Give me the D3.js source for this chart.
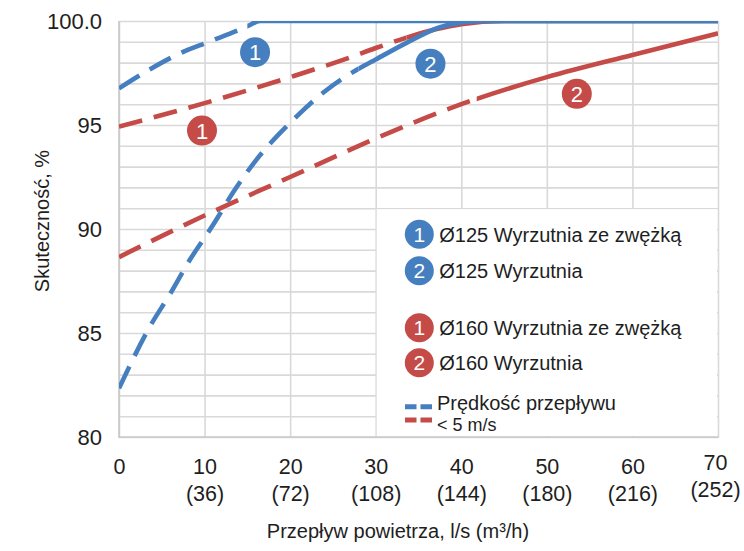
<!DOCTYPE html>
<html>
<head>
<meta charset="utf-8">
<script src="https://cdn.jsdelivr.net/npm/d3@7"></script>
<style>
  html, body { margin: 0; padding: 0; background: #fff; }
  svg { display: block; font-family: "Liberation Sans", Arial, sans-serif; }
</style>
</head>
<body>
<svg id="chart" width="744" height="551"></svg>
<script>
// ---------- DATA ----------
const xTickValues = [0, 10, 20, 30, 40, 50, 60, 70];
const xTickLabels = ["0", "10", "20", "30", "40", "50", "60", "70"];
const xTickSubLabels = ["", "(36)", "(72)", "(108)", "(144)", "(180)", "(216)", "(252)"];
const yTickValues = [80, 85, 90, 95, 100];
const yTickLabels = ["80", "85", "90", "95", "100.0"];

// Ø125 Wyrzutnia ze zwężką (blue 1)
const blue1X = [0, 3.5, 7, 10.5, 14, 15, 16.5, 20, 30, 40, 50, 60, 70];
const blue1Y = [96.76, 97.65, 98.42, 99.0, 99.57, 99.75, 100, 100, 100, 100, 100, 100, 100];
const blue1DashEnd = 15;

// Ø125 Wyrzutnia (blue 2)
const blue2X = [0, 3.6, 6, 8.1, 11, 13.4, 16, 20, 24, 26, 28, 30, 33.6, 37.5, 40, 42.5, 50, 60, 70];
const blue2Y = [82.34, 85.3, 86.9, 88.4, 90.2, 91.8, 93.3, 95.1, 96.6, 97.2, 97.7, 98.15, 98.95, 99.7, 99.92, 100, 100, 100, 100];
const blue2DashEnd = 28;

// Ø160 Wyrzutnia ze zwężką (red 1)
const red1X = [0, 10, 20, 27, 30, 33.6, 37, 40, 45, 50, 60, 70];
const red1Y = [94.92, 96.05, 97.3, 98.25, 98.7, 99.2, 99.6, 99.85, 100, 100, 100, 100];
const red1DashEnd = 33.6;

// Ø160 Wyrzutnia (red 2)
const red2X = [0, 10, 20, 30, 40, 50, 60, 70];
const red2Y = [88.65, 90.65, 92.5, 94.35, 96.0, 97.3, 98.37, 99.41];
const red2DashEnd = 41.8;

// badge (numbered circle) positions on the curves, in data units
const badgeNums = ["1", "2", "1", "2"];
const badgeX = [15.9, 36.4, 9.7, 53.5];
const badgeY = [98.5, 97.95, 94.73, 96.5];

const legendNames = ["Ø125 Wyrzutnia ze zwężką", "Ø125 Wyrzutnia", "Ø160 Wyrzutnia ze zwężką", "Ø160 Wyrzutnia"];
const legendNums = ["1", "2", "1", "2"];
const noteLines = ["Prędkość przepływu", "< 5 m/s"];

const BLUE = "#457fc0";
const RED = "#c44b47";

// ---------- LAYOUT ----------
const svg = d3.select("#chart");
const L = 119, R = 718, T = 21, B = 437;
const x = d3.scaleLinear().domain([0, 70]).range([L, R]);
const y = d3.scaleLinear().domain([80, 100]).range([B, T]);
const gridColor = "#d9d9d9";
const textColor = "#1e1e1e";

// grid
svg.append("g")
  .attr("transform", `translate(${L},0)`)
  .call(d3.axisLeft(y).tickValues(d3.range(80, 101, 1)).tickSize(-(R - L)).tickFormat(""))
  .call(g => g.select(".domain").remove())
  .call(g => g.selectAll("line").attr("stroke", gridColor).attr("stroke-width", 1.6));
svg.append("g")
  .attr("transform", `translate(0,${B})`)
  .call(d3.axisBottom(x).tickValues(xTickValues).tickSize(-(B - T)).tickFormat(""))
  .call(g => g.select(".domain").remove())
  .call(g => g.selectAll("line").attr("stroke", gridColor).attr("stroke-width", 1.6));

// axis lines
svg.append("line").attr("x1", L).attr("x2", L).attr("y1", T).attr("y2", B + 1)
  .attr("stroke", "#c8c8c8").attr("stroke-width", 1.6);
svg.append("line").attr("x1", L).attr("x2", R + 1).attr("y1", B).attr("y2", B)
  .attr("stroke", "#c8c8c8").attr("stroke-width", 1.6);

// legend box (white, over the grid)
svg.append("rect")
  .attr("x", x(30) + 1).attr("y", y(91) + 1)
  .attr("width", x(70) - x(30) - 2).attr("height", y(80) - y(91) - 2)
  .attr("fill", "#fff");

// y tick labels
svg.append("g")
  .attr("transform", `translate(${L},0)`)
  .call(d3.axisLeft(y).tickValues(yTickValues).tickSize(0).tickPadding(17)
    .tickFormat((d, i) => yTickLabels[i]))
  .call(g => g.select(".domain").remove())
  .call(g => g.selectAll("text").attr("font-size", 22).attr("fill", textColor)
    .attr("font-family", "Liberation Sans, Arial, sans-serif").attr("dy", "0.36em"));

// x tick labels (two lines)
const xAxisG = svg.append("g")
  .attr("transform", `translate(0,${B})`)
  .call(d3.axisBottom(x).tickValues(xTickValues).tickSize(0).tickFormat(""))
  .call(g => g.select(".domain").remove());
xAxisG.selectAll(".tick").each(function (d, i) {
  const last = i === xTickValues.length - 1;
  const t = d3.select(this).append("text")
    .attr("fill", textColor).attr("font-size", 21.5).attr("text-anchor", "middle")
    .attr("font-family", "Liberation Sans, Arial, sans-serif");
  t.append("tspan").attr("x", last ? -3 : 0).attr("y", last ? 33 : 37).text(xTickLabels[i]);
  if (xTickSubLabels[i]) t.append("tspan").attr("x", last ? -3 : 0).attr("y", last ? 60 : 64).text(xTickSubLabels[i]);
});

// axis titles
svg.append("text")
  .attr("transform", `translate(49,221) rotate(-90)`)
  .attr("text-anchor", "middle").attr("font-size", 20).attr("fill", textColor)
  .text("Skuteczność, %");
svg.append("text")
  .attr("x", 398).attr("y", 538)
  .attr("text-anchor", "middle").attr("font-size", 20).attr("fill", textColor)
  .text("Przepływ powietrza, l/s (m³/h)");

// ---------- CURVES ----------
const defs = svg.append("defs");
const series = [
  { id: "r2", xs: red2X, ys: red2Y, dashEnd: red2DashEnd, color: RED },
  { id: "r1", xs: red1X, ys: red1Y, dashEnd: red1DashEnd, color: RED },
  { id: "b2", xs: blue2X, ys: blue2Y, dashEnd: blue2DashEnd, color: BLUE },
  { id: "b1", xs: blue1X, ys: blue1Y, dashEnd: blue1DashEnd, color: BLUE }
];
const lineGen = d3.line().x(d => x(d[0])).y(d => y(d[1])).curve(d3.curveMonotoneX);

series.forEach(s => {
  const pts = s.xs.map((v, i) => [v, s.ys[i]]);
  defs.append("clipPath").attr("id", "dash-" + s.id)
    .append("rect").attr("x", L).attr("y", T).attr("width", x(s.dashEnd) - L).attr("height", B - T);
  defs.append("clipPath").attr("id", "solid-" + s.id)
    .append("rect").attr("x", x(s.dashEnd)).attr("y", T).attr("width", R - x(s.dashEnd)).attr("height", B - T);
  svg.append("path").datum(pts)
    .attr("d", lineGen).attr("fill", "none")
    .attr("stroke", s.color).attr("stroke-width", 4.6)
    .attr("stroke-dasharray", "24,12")
    .attr("clip-path", `url(#dash-${s.id})`);
  svg.append("path").datum(pts)
    .attr("d", lineGen).attr("fill", "none")
    .attr("stroke", s.color).attr("stroke-width", 4.6)
    .attr("clip-path", `url(#solid-${s.id})`);
});

// ---------- BADGES ----------
const badgeColors = [BLUE, BLUE, RED, RED];
badgeNums.forEach((n, i) => {
  const g = svg.append("g").attr("transform", `translate(${x(badgeX[i])},${y(badgeY[i])})`);
  g.append("circle").attr("r", 15).attr("fill", badgeColors[i]);
  g.append("text").attr("text-anchor", "middle").attr("y", 8)
    .attr("font-size", 22).attr("fill", "#fff").text(n);
});

// ---------- LEGEND ----------
const legendCX = x(30) + 43.6;
const legendYs = [234.3, 270.7, 327.7, 362.7];
const legendColors = [BLUE, BLUE, RED, RED];
legendNames.forEach((name, i) => {
  const g = svg.append("g").attr("transform", `translate(${legendCX},${legendYs[i]})`);
  g.append("circle").attr("r", 14.5).attr("fill", legendColors[i]);
  g.append("text").attr("text-anchor", "middle").attr("y", 7.5)
    .attr("font-size", 21).attr("fill", "#fff").text(legendNums[i]);
  g.append("text").attr("x", 20).attr("y", 7.2)
    .attr("font-size", 20).attr("fill", textColor)
    .text(name);
});

// dashed-line note
[[BLUE, 406.7], [RED, 420]].forEach(([c, yy]) => {
  svg.append("line").attr("x1", 405).attr("x2", 432).attr("y1", yy).attr("y2", yy)
    .attr("stroke", c).attr("stroke-width", 5).attr("stroke-dasharray", "11.5,4");
});
svg.append("text").attr("x", 437).attr("y", 409.5).attr("font-size", 20)
  .attr("fill", textColor).text(noteLines[0]);
svg.append("text").attr("x", 437).attr("y", 431).attr("font-size", 18)
  .attr("fill", textColor).text(noteLines[1]);
</script>
</body>
</html>
